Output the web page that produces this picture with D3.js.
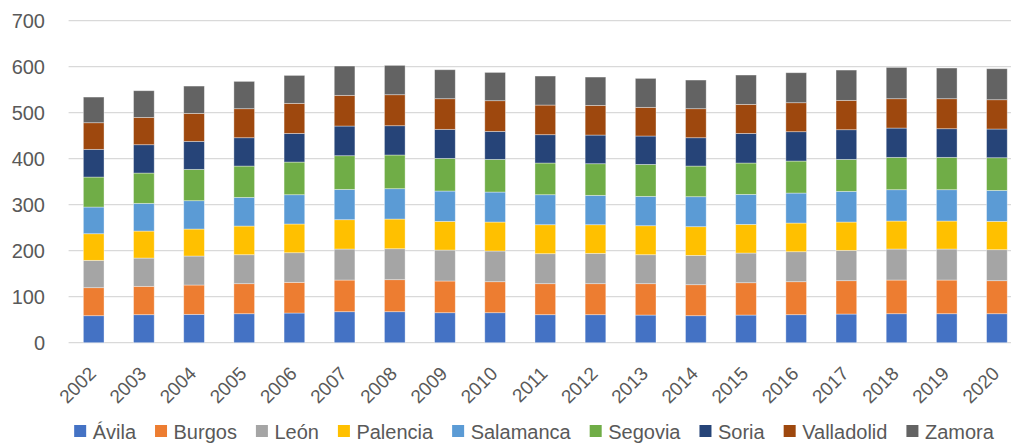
<!DOCTYPE html>
<html>
<head>
<meta charset="utf-8">
<script src="https://cdn.jsdelivr.net/npm/d3@7"></script>
<style>
  body { margin: 0; background: #fff; }
  text { font-family: "Liberation Sans", Arial, sans-serif; fill: #595959; }
</style>
</head>
<body>
<svg id="chart" width="1011" height="443"></svg>
<script>
var years = ['2002','2003','2004','2005','2006','2007','2008','2009','2010','2011',
             '2012','2013','2014','2015','2016','2017','2018','2019','2020'];
var provinces = ['Ávila','Burgos','León','Palencia','Salamanca','Segovia','Soria','Valladolid','Zamora'];
var colors = ['#4472C4','#ED7D31','#A5A5A5','#FFC000','#5B9BD5','#70AD47','#264478','#9E480E','#636363'];
var yTicks = [0,100,200,300,400,500,600,700];

// one array per province
var avila      = [58.7,60.9,61.6,63.0,64.5,67.4,67.4,65.2,65.2,60.9,60.9,60.1,58.7,60.1,60.9,62.3,63.0,63.0,63.0];
var burgos     = [60.9,61.6,63.8,65.3,66.7,68.8,69.6,68.9,67.4,67.4,67.4,68.2,67.4,70.3,71.7,72.5,73.2,73.2,71.8];
var leon       = [59.4,61.5,63.0,63.0,64.4,67.4,67.3,67.3,66.7,65.2,65.9,63.0,63.7,64.5,65.2,65.9,67.4,67.4,67.4];
var palencia   = [57.9,58.7,58.7,62.3,62.4,63.8,64.5,62.4,63.0,63.0,62.3,63.0,62.4,62.3,62.3,61.6,60.9,60.9,61.6];
var salamanca  = [58.0,60.2,61.6,62.3,63.7,65.9,66.0,65.9,65.2,65.2,63.8,63.8,65.2,65.2,65.2,66.7,68.1,68.1,67.3];
var segovia    = [65.2,65.9,68.1,68.1,71.0,73.2,73.2,71.0,71.0,68.9,68.8,69.5,66.6,68.2,69.6,69.5,70.3,70.3,71.0];
var soria      = [60.2,61.6,60.9,61.6,62.3,64.5,63.7,63.1,60.9,61.6,62.3,61.7,61.6,64.4,63.8,64.5,63.7,62.3,62.4];
var valladolid = [57.9,59.4,60.8,63.1,65.3,66.7,67.4,66.6,66.7,64.4,64.5,62.3,63.1,63.1,63.0,63.8,63.8,65.2,63.7];
var zamora     = [55.8,58.0,59.4,59.4,60.8,63.7,63.8,63.0,61.5,63.1,61.6,63.0,62.3,63.8,65.2,65.9,68.1,66.7,67.4];

var series = [avila, burgos, leon, palencia, salamanca, segovia, soria, valladolid, zamora];

var rows = years.map(function(y, i) {
  var r = { year: y };
  provinces.forEach(function(p, k) { r[p] = series[k][i]; });
  return r;
});

var svg = d3.select('#chart');
var margin = { left: 68.6, right: -11, top: 20.7, bottom: 100.3 };
var W = 1011, H = 443;

var x = d3.scaleBand()
  .domain(years)
  .range([margin.left, W - margin.right])
  .paddingInner(0.588)
  .paddingOuter(0.294);

var y = d3.scaleLinear()
  .domain([0, 700])
  .range([H - margin.bottom, margin.top]);

// gridlines
svg.append('g').attr('class', 'grid')
  .selectAll('line')
  .data(yTicks).enter()
  .append('line')
  .attr('x1', margin.left)
  .attr('x2', W - margin.right)
  .attr('y1', function(d){ return y(d); })
  .attr('y2', function(d){ return y(d); })
  .attr('stroke', '#d9d9d9')
  .attr('stroke-width', 1.3);

// y axis labels
svg.append('g').attr('class', 'y-labels')
  .selectAll('text')
  .data(yTicks).enter()
  .append('text')
  .attr('x', 45)
  .attr('y', function(d){ return y(d); })
  .attr('dy', '0.36em')
  .attr('text-anchor', 'end')
  .style('font-size', '20px')
  .text(function(d){ return d; });

// stacked bars
var stacked = d3.stack().keys(provinces)(rows);

svg.append('g').attr('class', 'bars')
  .selectAll('g')
  .data(stacked).enter()
  .append('g')
  .attr('fill', function(d, i){ return colors[i]; })
  .selectAll('rect')
  .data(function(d){ return d; }).enter()
  .append('rect')
  .attr('x', function(d){ return x(d.data.year); })
  .attr('width', x.bandwidth())
  .attr('y', function(d){ return y(d[1]); })
  .attr('height', function(d){ return y(d[0]) - y(d[1]); })
  .attr('stroke', '#ffffff')
  .attr('stroke-opacity', 0.45)
  .attr('stroke-width', 0.8);

// x labels, rotated
svg.append('g').attr('class', 'x-labels')
  .selectAll('text')
  .data(years).enter()
  .append('text')
  .attr('transform', function(d){
    return 'translate(' + (x(d) + x.bandwidth() / 2 + 3.5) + ',' + (y(0) + 32) + ') rotate(-45)';
  })
  .attr('text-anchor', 'end')
  .style('font-size', '19px')
  .text(function(d){ return d; });

// legend
var legend = svg.append('g').attr('class', 'legend');
var items = legend.selectAll('g')
  .data(provinces).enter()
  .append('g');

items.append('rect')
  .attr('width', 12)
  .attr('height', 12)
  .attr('y', -14)
  .attr('fill', function(d, i){ return colors[i]; });

items.append('text')
  .attr('x', 18.5)
  .style('font-size', '20px')
  .text(function(d){ return d; });

var gap = 19;
var cursor = 0;
items.each(function() {
  var w = d3.select(this).select('text').node().getComputedTextLength();
  d3.select(this).attr('transform', 'translate(' + cursor + ',0)');
  cursor += 18.5 + w + gap;
});
var total = cursor - gap;
legend.attr('transform', 'translate(' + (534 - total / 2) + ',439)');
</script>
</body>
</html>
